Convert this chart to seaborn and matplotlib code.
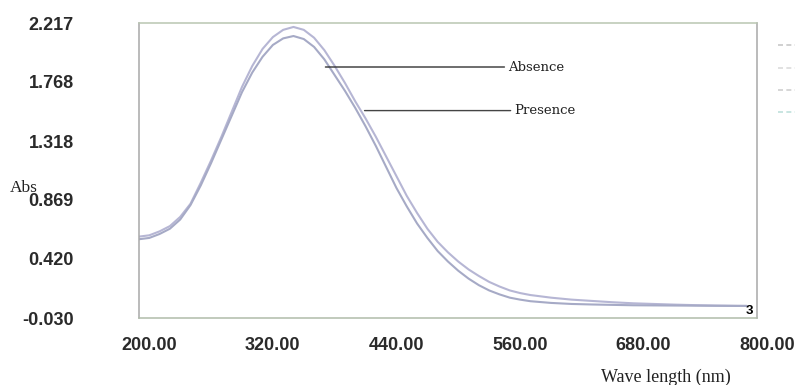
import pandas as pd
import matplotlib.pyplot as plt
import matplotlib.lines as mlines
import matplotlib.transforms as mtransforms
import seaborn as sns

# Wavelength grid (nm) and absorbance
wavelength = [200, 210, 220, 230, 240, 250, 260, 270, 280, 290,
              300, 310, 320, 330, 340, 350, 360, 370, 380, 390,
              400, 410, 420, 430, 440, 450, 460, 470, 480, 490,
              500, 510, 520, 530, 540, 550, 560, 570, 580, 600,
              620, 640, 660, 680, 700, 720, 740, 760, 780, 790]

absence = [0.59, 0.60, 0.63, 0.67, 0.74, 0.84, 1.00, 1.17, 1.35, 1.54,
           1.73, 1.89, 2.02, 2.11, 2.165, 2.187, 2.165, 2.105, 2.01, 1.89,
           1.76, 1.62, 1.49, 1.35, 1.20, 1.05, 0.90, 0.77, 0.65, 0.55,
           0.47, 0.40, 0.34, 0.29, 0.245, 0.21, 0.18, 0.16, 0.145, 0.125,
           0.11, 0.10, 0.09, 0.082, 0.077, 0.072, 0.068, 0.065, 0.063, 0.062]

presence = [0.57, 0.58, 0.61, 0.65, 0.72, 0.83, 0.98, 1.15, 1.33, 1.51,
            1.69, 1.84, 1.96, 2.05, 2.10, 2.118, 2.095, 2.035, 1.94, 1.82,
            1.70, 1.57, 1.43, 1.28, 1.12, 0.96, 0.82, 0.69, 0.58, 0.48,
            0.40, 0.33, 0.27, 0.22, 0.18, 0.15, 0.125, 0.11, 0.098, 0.085,
            0.077, 0.073, 0.070, 0.067, 0.066, 0.065, 0.064, 0.063, 0.062, 0.062]

y_ticks = [-0.030, 0.420, 0.869, 1.318, 1.768, 2.217]
x_ticks = [200, 320, 440, 560, 680, 800]

df = pd.DataFrame({
    'Wavelength': wavelength * 2,
    'Abs': absence + presence,
    'Sample': ['Absence'] * len(wavelength) + ['Presence'] * len(wavelength),
})

sns.set_style('white')
plt.rcParams['font.family'] = ['Liberation Sans', 'DejaVu Sans']

fig = plt.figure(figsize=(7.95, 3.85), dpi=100)
ax = fig.add_axes([0.1748, 0.174, 0.7774, 0.7662])

sns.lineplot(data=df, x='Wavelength', y='Abs', hue='Sample',
             palette={'Absence': '#b6b6d4', 'Presence': '#a6aac6'},
             linewidth=1.5, legend=False, ax=ax)

ax.set_xlim(200, 800)
ax.set_ylim(-0.030, 2.217)
ax.set_xticks(x_ticks)
ax.set_xticklabels([f'{v:.2f}' for v in x_ticks])
ax.set_yticks(y_ticks)
ax.set_yticklabels([f'{v:.3f}' for v in y_ticks])
ax.tick_params(axis='y', direction='out', length=3, color='#999999',
               pad=44, labelsize=13, labelcolor='#2a2a2a')
ax.tick_params(axis='x', direction='inout', length=5, color='#999999',
               pad=11, labelsize=13, labelcolor='#2a2a2a')
for lab in ax.get_xticklabels() + ax.get_yticklabels():
    lab.set_fontweight('bold')
# x labels sit a little right of their ticks in the original
shift = mtransforms.ScaledTranslation(10 / 100, 0, fig.dpi_scale_trans)
for lab in ax.get_xticklabels():
    lab.set_transform(lab.get_transform() + shift)
ax.set_xlabel('')
ax.set_ylabel('')

ax.spines['top'].set_color('#b9c6b2')
ax.spines['bottom'].set_color('#b0bcaa')
ax.spines['left'].set_color('#a8a8a8')
ax.spines['right'].set_color('#a8a8a8')
ax.spines['right'].set_linestyle((0, (3, 1)))
for s in ax.spines.values():
    s.set_linewidth(1.1)

# Axis captions in serif, like the instrument printout
fig.text(10 / 795, 1 - 188 / 385, 'Abs', family='Liberation Serif',
         fontsize=12.5, va='center', ha='left', color='#222222')
fig.text(666 / 795, 1 - 377 / 385, 'Wave length (nm)', family='Liberation Serif',
         fontsize=13, va='center', ha='center', color='#222222')

# Curve labels with leader lines
ax.annotate('Absence', xy=(381, 1.882), xytext=(558, 1.882),
            family='DejaVu Serif', fontsize=9.5, va='center', ha='left',
            color='#222222',
            arrowprops=dict(arrowstyle='-', color='#333333', lw=1.0,
                            shrinkA=0, shrinkB=0))
ax.annotate('Presence', xy=(419, 1.55), xytext=(564, 1.55),
            family='DejaVu Serif', fontsize=9.5, va='center', ha='left',
            color='#222222',
            arrowprops=dict(arrowstyle='-', color='#444444', lw=1.0,
                            shrinkA=0, shrinkB=0))

ax.text(793, 0.02, '3', fontsize=9.5, fontweight='bold', ha='center',
        va='center', color='black')

# faint legend dashes outside the frame
for yy, col in zip([45, 68, 90, 112], ['#c8c8c8', '#dcdcdc', '#d0d0d0', '#bfe0dc']):
    y = 1 - yy / 385
    fig.add_artist(mlines.Line2D([778 / 795, 795 / 795], [y, y],
                                 transform=fig.transFigure, color=col,
                                 lw=1.2, ls=(0, (3, 2))))

plt.savefig('out.png', dpi=100)
